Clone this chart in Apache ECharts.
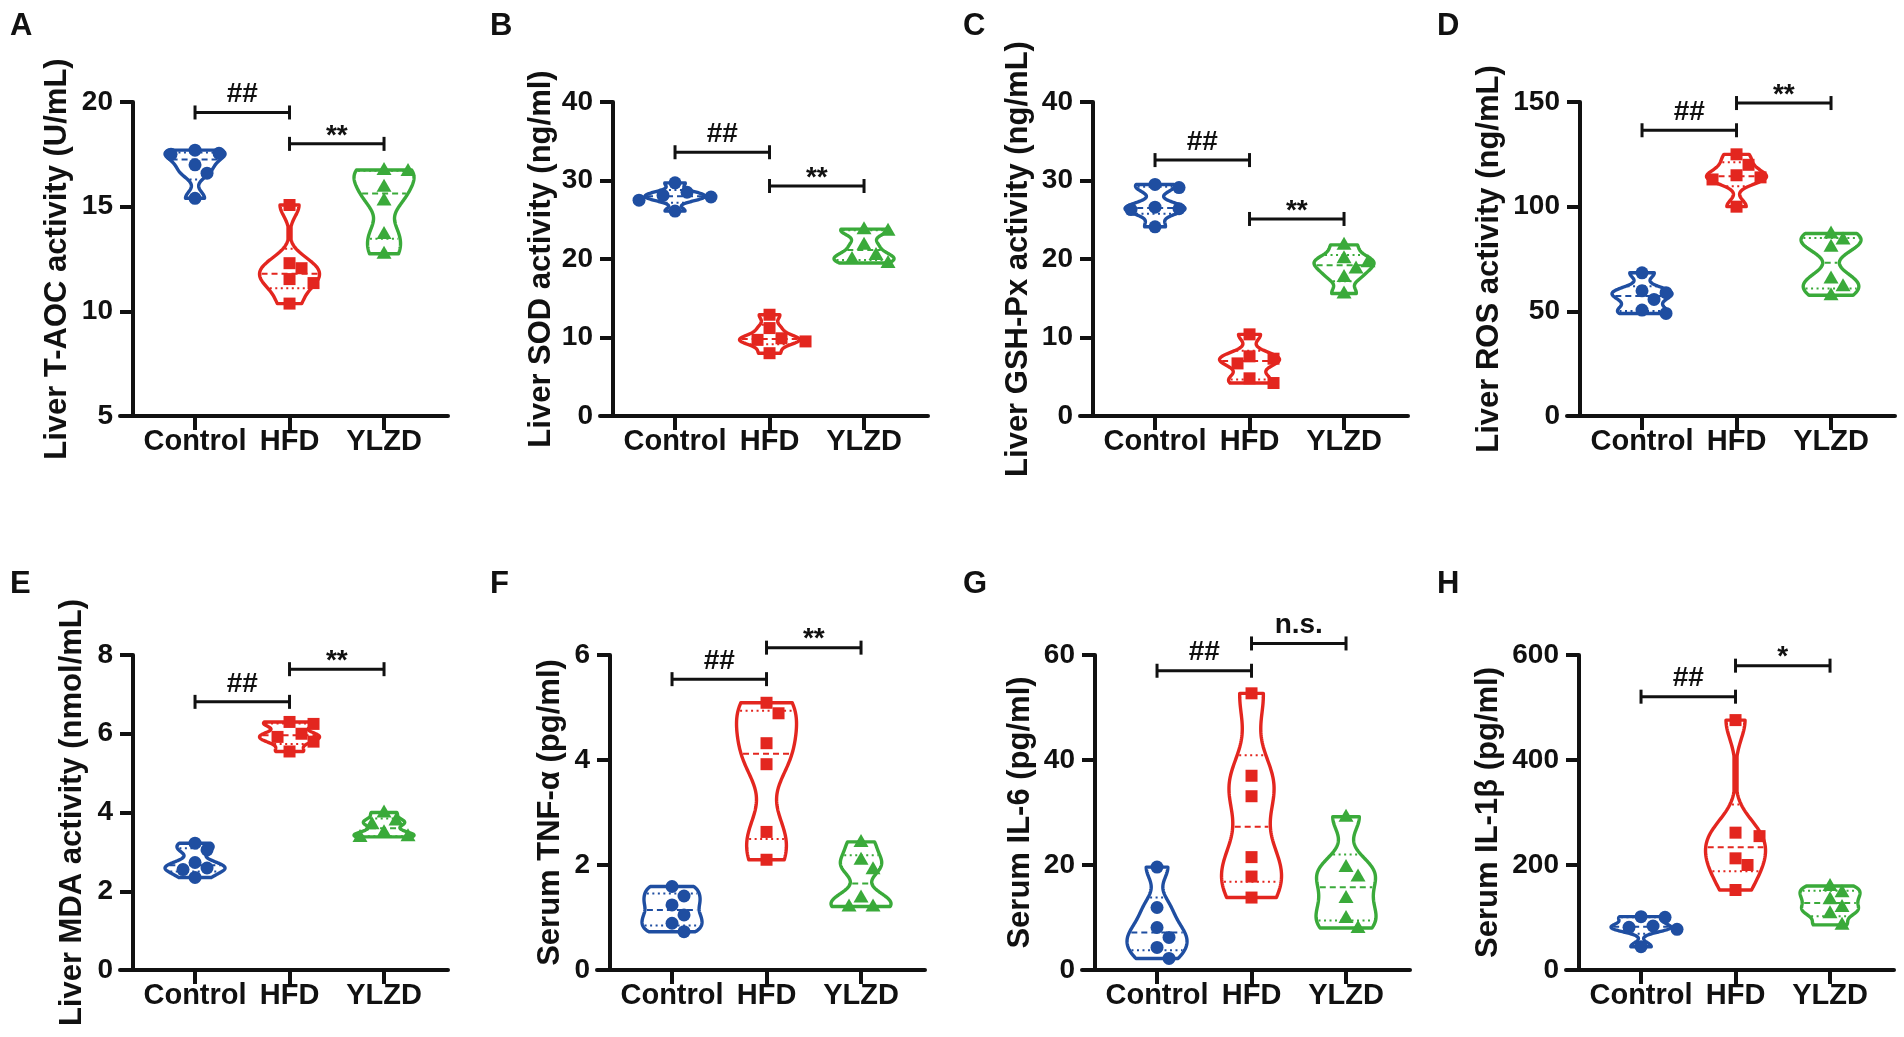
<!DOCTYPE html>
<html>
<head>
<meta charset="utf-8">
<script src="https://cdn.jsdelivr.net/npm/echarts@6/dist/echarts.min.js"></script>
<style>
html,body{margin:0;padding:0;background:#fff}
#main{width:1904px;height:1037px}
</style>
</head>
<body>
<div id="main"></div>
<script>
// group names on every x axis
var groups = ['Control', 'HFD', 'YLZD'];

// A  Liver T-AOC
var aocControl = [17.7, 17.55, 17.5, 17.0, 16.6, 15.4];
var aocHFD = [15.08, 12.3, 12.06, 11.54, 11.35, 10.37];
var aocYLZD = [16.75, 16.7, 15.95, 15.3, 13.7, 12.75];
var aocTicks = [5, 10, 15, 20];
var aocSig = [[0, 1, 19.5, '##'], [1, 2, 18.0, '**']];

// B  Liver SOD
var sodControl = [29.7, 28.5, 28.1, 27.9, 27.5, 26.1];
var sodHFD = [12.9, 11.2, 9.9, 9.7, 9.5, 8.0];
var sodYLZD = [23.8, 23.6, 21.8, 20.5, 20.0, 19.5];
var sodTicks = [0, 10, 20, 30, 40];
var sodSig = [[0, 1, 33.6, '##'], [1, 2, 29.3, '**']];

// C  Liver GSH-Px
var gshControl = [29.5, 29.1, 26.6, 26.4, 26.3, 24.1];
var gshHFD = [10.4, 7.6, 7.3, 6.7, 4.8, 4.2];
var gshYLZD = [21.8, 20.1, 19.6, 18.8, 17.7, 15.6];
var gshTicks = [0, 10, 20, 30, 40];
var gshSig = [[0, 1, 32.6, '##'], [1, 2, 25.1, '**']];

// D  Liver ROS
var rosControl = [68.4, 59.8, 58.9, 55.7, 50.6, 49.0];
var rosHFD = [125, 120, 115, 114, 113, 100];
var rosYLZD = [87.2, 84.3, 80.8, 65.7, 62.0, 57.7];
var rosTicks = [0, 50, 100, 150];
var rosSig = [[0, 1, 136.5, '##'], [1, 2, 149.5, '**']];

// E  Liver MDA
var mdaControl = [3.22, 3.05, 2.73, 2.59, 2.55, 2.35];
var mdaHFD = [6.3, 6.25, 6.0, 5.92, 5.8, 5.55];
var mdaYLZD = [4.0, 3.8, 3.7, 3.5, 3.4, 3.38];
var mdaTicks = [0, 2, 4, 6, 8];
var mdaSig = [[0, 1, 6.81, '##'], [1, 2, 7.64, '**']];

// F  Serum TNF-α
var tnfControl = [1.59, 1.41, 1.24, 1.05, 0.89, 0.73];
var tnfHFD = [5.09, 4.89, 4.32, 3.92, 2.63, 2.10];
var tnfYLZD = [2.44, 2.10, 1.92, 1.38, 1.21, 1.21];
var tnfTicks = [0, 2, 4, 6];
var tnfSig = [[0, 1, 5.54, '##'], [1, 2, 6.14, '**']];

// G  Serum IL-6
var il6Control = [19.6, 11.9, 8.1, 6.2, 4.3, 2.2];
var il6HFD = [52.7, 37.0, 33.1, 21.5, 17.8, 13.8];
var il6YLZD = [29.2, 19.6, 17.8, 13.7, 9.9, 8.0];
var il6Ticks = [0, 20, 40, 60];
var il6Sig = [[0, 1, 57.0, '##'], [1, 2, 62.2, 'n.s.']];

// H  Serum IL-1β
var il1bControl = [101.6, 100.3, 83.8, 81.3, 77.5, 44.4];
var il1bHFD = [476, 261.6, 255, 212.7, 200, 152.4];
var il1bYLZD = [160, 148, 135, 120, 108, 86];
var il1bTicks = [0, 200, 400, 600];
var il1bSig = [[0, 1, 520.6, '##'], [1, 2, 579.7, '*']];

var colors = ['#1f4ea1', '#e3261f', '#3aaa3a'];
var FONT = 'Arial, "Liberation Sans", sans-serif';

//面板布局: 轴的位置 (y轴x坐标) 与行
var panels = [
	{letter: 'A', name: 'Liver T-AOC activity (U/mL)', data: [aocControl, aocHFD, aocYLZD], ticks: aocTicks, sig: aocSig, ax: 133, row: 0, gap: 60, lx: 10},
	{letter: 'B', name: 'Liver SOD activity (ng/ml)', data: [sodControl, sodHFD, sodYLZD], ticks: sodTicks, sig: sodSig, ax: 613, row: 0, gap: 56, lx: 490},
	{letter: 'C', name: 'Liver GSH-Px activity (ng/mL)', data: [gshControl, gshHFD, gshYLZD], ticks: gshTicks, sig: gshSig, ax: 1093, row: 0, gap: 59, lx: 963},
	{letter: 'D', name: 'Liver ROS activity (ng/mL)', data: [rosControl, rosHFD, rosYLZD], ticks: rosTicks, sig: rosSig, ax: 1580, row: 0, gap: 75, lx: 1437},
	{letter: 'E', name: 'Liver MDA activity (nmol/mL)', data: [mdaControl, mdaHFD, mdaYLZD], ticks: mdaTicks, sig: mdaSig, ax: 133, row: 1, gap: 45, lx: 10},
	{letter: 'F', name: 'Serum TNF-α (pg/ml)', data: [tnfControl, tnfHFD, tnfYLZD], ticks: tnfTicks, sig: tnfSig, ax: 610, row: 1, gap: 44, lx: 490},
	{letter: 'G', name: 'Serum IL-6 (pg/ml)', data: [il6Control, il6HFD, il6YLZD], ticks: il6Ticks, sig: il6Sig, ax: 1095, row: 1, gap: 59, lx: 963},
	{letter: 'H', name: 'Serum IL-1β (pg/ml)', data: [il1bControl, il1bHFD, il1bYLZD], ticks: il1bTicks, sig: il1bSig, ax: 1579, row: 1, gap: 75, lx: 1437}
];
var rowTop = [102, 655], rowH = [314, 315], letterY = [11, 569];

var HALF = 30;   // 小提琴最大半宽(px)

//四分位数 (n+1)p 方法
function pct(s, p){
	var n = s.length, r = (n + 1) * p, lo = Math.floor(r);
	if(lo < 1) return s[0];
	if(lo >= n) return s[n - 1];
	return s[lo - 1] + (r - lo) * (s[lo] - s[lo - 1]);
}

function stats(vals){
	var s = vals.slice().sort(function(a, b){return a - b});
	var n = s.length;
	var mean = s.reduce(function(a, b){return a + b}, 0) / n;
	var sd = Math.sqrt(s.reduce(function(a, b){return a + (b - mean) * (b - mean)}, 0) / (n - 1));
	var q1 = pct(s, 0.25), med = pct(s, 0.5), q3 = pct(s, 0.75);
	var spread = Math.min(sd, (q3 - q1) / 1.34);
	if(!(spread > 0)) spread = sd || 1;
	//带宽取小一点, 形状更接近原图
	var h = 0.6 * 0.9 * spread * Math.pow(n, -0.2);
	function dens(y){
		var d = 0;
		for(var i = 0; i < n; i++){
			var z = (y - s[i]) / h;
			d += Math.exp(-0.5 * z * z);
		}
		return d;
	}
	var steps = 100, maxD = 0;
	for(var k = 0; k <= steps; k++){
		maxD = Math.max(maxD, dens(s[0] + (s[n - 1] - s[0]) * k / steps));
	}
	return {s: s, q1: q1, med: med, q3: q3, dens: dens, maxD: maxD, steps: steps};
}

//散点蜂群排列
function swarm(py){
	var order = py.map(function(v, i){return i}).sort(function(a, b){return py[a] - py[b]});
	var placed = [], off = [];
	var size = 13, step = 12;
	order.forEach(function(i){
		for(var k = 0; k < 30; k++){
			var dx = k === 0 ? 0 : (k % 2 ? 1 : -1) * Math.ceil(k / 2) * step;
			var ok = placed.every(function(p){
				var ddx = p[0] - dx, ddy = p[1] - py[i];
				return ddx * ddx + ddy * ddy >= size * size;
			});
			if(ok){
				off[i] = dx;
				placed.push([dx, py[i]]);
				break;
			}
		}
	});
	return off;
}

function symbolShape(g, cx, cy){
	var c = colors[g];
	if(g === 0){
		return {type: 'circle', shape: {cx: cx, cy: cy, r: 6.5}, style: {fill: c}};
	}else if(g === 1){
		return {type: 'rect', shape: {x: cx - 6, y: cy - 6, width: 12, height: 12}, style: {fill: c}};
	}
	return {type: 'polygon', shape: {points: [[cx, cy - 8], [cx + 7.5, cy + 5], [cx - 7.5, cy + 5]]}, style: {fill: c}};
}

function violinRender(panel){
	return function(params, api){
		var g = api.value(0);
		var st = stats(panel.data[g]);
		var s = st.s, n = s.length, c = colors[g];
		function w(y){ return Math.max(1.5, st.dens(y) / st.maxD * HALF); }
		var right = [], left = [];
		for(var k = 0; k <= st.steps; k++){
			var y = s[0] + (s[n - 1] - s[0]) * k / st.steps;
			var p = api.coord([g, y]);
			var hw = w(y);
			right.push([p[0] + hw, p[1]]);
			left.unshift([p[0] - hw, p[1]]);
		}
		var children = [{
			type: 'polygon',
			shape: {points: right.concat(left)},
			style: {fill: 'rgba(255,255,255,0)', stroke: c, lineWidth: 3.4, lineJoin: 'round'}
		}];
		[[st.q1, [2, 3.5]], [st.med, [6, 4]], [st.q3, [2, 3.5]]].forEach(function(q){
			var p = api.coord([g, q[0]]), hw = w(q[0]) - 2;
			if(hw < 2) return;
			children.push({
				type: 'line',
				shape: {x1: p[0] - hw, y1: p[1], x2: p[0] + hw, y2: p[1]},
				style: {stroke: c, lineWidth: 2, lineDash: q[1]}
			});
		});
		var vals = panel.data[g];
		var py = vals.map(function(v){return api.coord([g, v])[1]});
		var off = swarm(py);
		var cx = api.coord([g, 0])[0];
		vals.forEach(function(v, i){
			children.push(symbolShape(g, cx + off[i], py[i]));
		});
		return {type: 'group', children: children};
	};
}

function sigRender(panel){
	return function(params, api){
		var m = panel.sig[params.dataIndex];
		var p1 = api.coord([m[0], m[2]]), p2 = api.coord([m[1], m[2]]);
		var y = p1[1], cap = 7;
		var stroke = {stroke: '#111', lineWidth: 3};
		var label = m[3];
		var ty = label.indexOf('*') >= 0 ? y + 6 : y - 4;
		return {type: 'group', children: [
			{type: 'line', shape: {x1: p1[0], y1: y, x2: p2[0], y2: y}, style: stroke},
			{type: 'line', shape: {x1: p1[0], y1: y - cap, x2: p1[0], y2: y + cap}, style: stroke},
			{type: 'line', shape: {x1: p2[0], y1: y - cap, x2: p2[0], y2: y + cap}, style: stroke},
			{type: 'text', style: {
				text: label, x: (p1[0] + p2[0]) / 2, y: ty,
				align: 'center', verticalAlign: 'bottom',
				font: 'bold 28px ' + FONT, fill: '#111'
			}}
		]};
	};
}

var grids = [], xAxes = [], yAxes = [], series = [], graphics = [];

panels.forEach(function(p, i){
	var t = p.ticks;
	grids.push({left: p.ax - 13, top: rowTop[p.row], width: 328, height: rowH[p.row], outerBoundsMode: 'none', containLabel: false});
	xAxes.push({
		type: 'value', gridIndex: i, min: -0.794, max: 2.677,
		splitLine: {show: false},
		axisLine: {show: true, onZero: false, lineStyle: {color: '#111', width: 4}},
		axisTick: {show: true, customValues: [0, 1, 2], length: 14, lineStyle: {color: '#111', width: 4}},
		axisLabel: {
			customValues: [0, 1, 2], margin: 11,
			formatter: function(v){ return groups[Math.round(v)]; },
			color: '#111', fontWeight: 'bold', fontSize: 29, fontFamily: FONT
		}
	});
	yAxes.push({
		type: 'value', gridIndex: i, min: t[0], max: t[t.length - 1], interval: t[1] - t[0],
		offset: -13,
		splitLine: {show: false},
		axisLine: {show: true, onZero: false, lineStyle: {color: '#111', width: 4}},
		axisTick: {show: true, length: 13, lineStyle: {color: '#111', width: 4}},
		axisLabel: {margin: 20, color: '#111', fontWeight: 'bold', fontSize: 28, fontFamily: FONT},
		name: p.name, nameLocation: 'middle', nameRotate: 90, nameGap: p.gap,
		nameTextStyle: {color: '#111', fontWeight: 'bold', fontSize: 31, fontFamily: FONT}
	});
	series.push({
		type: 'custom', xAxisIndex: i, yAxisIndex: i, clip: false, silent: true,
		renderItem: violinRender(p),
		data: [[0], [1], [2]],
		z: 3
	});
	series.push({
		type: 'custom', xAxisIndex: i, yAxisIndex: i, clip: false, silent: true,
		renderItem: sigRender(p),
		data: p.sig.map(function(m){return [m[0], m[2]]}),
		z: 4
	});
	graphics.push({
		type: 'text', left: p.lx, top: letterY[p.row],
		style: {text: p.letter, font: 'bold 31px ' + FONT, fill: '#111'}
	});
});

var myChart = echarts.init(document.getElementById('main'));
myChart.setOption({
	backgroundColor: '#fff',
	animation: false,
	grid: grids,
	xAxis: xAxes,
	yAxis: yAxes,
	series: series,
	graphic: graphics
});
</script>
</body>
</html>
